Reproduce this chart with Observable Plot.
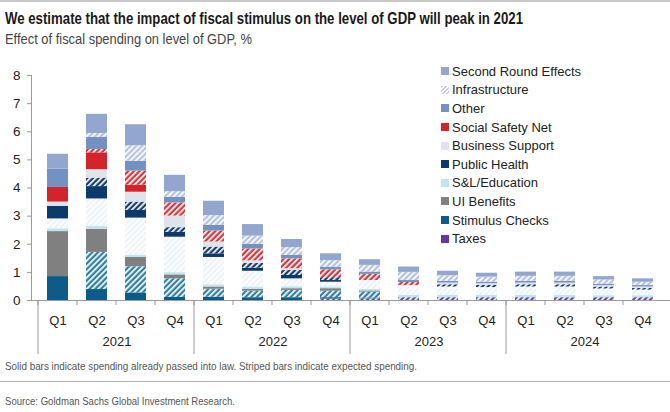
<!DOCTYPE html>
<html><head><meta charset="utf-8">
<script src="https://cdn.jsdelivr.net/npm/d3@7"></script>
<script src="https://cdn.jsdelivr.net/npm/@observablehq/plot@0.6"></script>
<style>
body{margin:0;background:#fff;}
#wrap{position:relative;width:670px;height:412px;overflow:hidden;background:#fff;font-family:"Liberation Sans",Arial,sans-serif;border-top:2px solid #c8c8c8;box-sizing:border-box;}
.fit{position:absolute;left:5px;white-space:nowrap;transform-origin:0 50%;}
#title{top:7px;font-family:"Liberation Sans Narrow","Liberation Sans",Arial,sans-serif;font-weight:bold;font-size:16.5px;color:#1a1a1a;line-height:18px;}
#subtitle{top:29px;font-family:"Liberation Sans Narrow","Liberation Sans",Arial,sans-serif;font-size:14px;color:#444;line-height:17px;}
#plot{position:absolute;top:50px;left:0;}
#note{top:357px;font-family:"Liberation Sans Narrow","Liberation Sans",Arial,sans-serif;font-size:11.5px;color:#555;line-height:14px;}
#line{position:absolute;top:379px;left:0;width:670px;height:1px;background:#b0b0b0;}
#source{top:392px;font-family:"Liberation Sans Narrow","Liberation Sans",Arial,sans-serif;font-size:11.5px;color:#555;line-height:14px;}
#legend{position:absolute;left:441px;top:60px;font-size:13px;color:#222;}
.li{height:18.6px;display:flex;align-items:center;}
.sw{width:8px;height:8px;margin-right:3px;flex:none;}
</style></head>
<body>
<div id="wrap">
  <div id="title" class="fit">We estimate that the impact of fiscal stimulus on the level of GDP will peak in 2021</div>
  <div id="subtitle" class="fit">Effect of fiscal spending on level of GDP, %</div>
  <div id="plot"></div>
  <div id="legend"></div>
  <div id="note" class="fit">Solid bars indicate spending already passed into law. Striped bars indicate expected spending.</div>
  <div id="line"></div>
  <div id="source" class="fit">Source: Goldman Sachs Global Investment Research.</div>
</div>
<script>
// ---- data ----
const quarters = ["Q1","Q2","Q3","Q4"];
const years = ["2021","2022","2023","2024"];
const periods = years.flatMap(y => quarters.map(q => y + " " + q));
const yTicks = [0,1,2,3,4,5,6,7,8];

const categories = ["Taxes","Stimulus Checks","UI Benefits","S&L/Education","Public Health","Business Support","Social Safety Net","Other","Infrastructure","Second Round Effects"];
const legendOrder = ["Second Round Effects","Infrastructure","Other","Social Safety Net","Business Support","Public Health","S&L/Education","UI Benefits","Stimulus Checks","Taxes"];

const taxesStriped    = [0,0,0,0,0,0,0,0.05,0.06,0.1,0.1,0.1,0.1,0.1,0.1,0.1];
const stimulusSolid   = [0.85,0.39,0.27,0.11,0.12,0.1,0.1,0.05,0.03,0,0,0,0,0,0,0];
const stimulusStriped = [0,1.32,0.93,0.66,0.28,0.23,0.26,0.23,0.21,0,0,0,0,0,0,0];
const uiSolid         = [1.6,0.82,0.33,0.14,0.08,0.07,0.06,0.09,0.04,0,0,0,0,0,0,0];
const slSolid         = [0.1,0.1,0.08,0.08,0.08,0.08,0.07,0.07,0.06,0.08,0.08,0.08,0.08,0.08,0.07,0.07];
const slStriped       = [0.35,0.98,1.32,1.26,0.97,0.56,0.28,0.16,0.31,0.33,0.3,0.28,0.3,0.3,0.24,0.2];
const healthSolid     = [0.45,0.44,0.27,0.17,0.13,0.11,0.12,0.06,0,0,0,0,0,0,0,0];
const healthStriped   = [0,0.3,0.3,0.17,0.24,0.17,0.18,0.1,0,0,0.08,0.08,0.08,0.08,0.07,0.06];
const businessSolid   = [0.15,0.3,0.35,0.41,0.18,0.09,0.06,0,0,0.02,0.06,0.06,0.06,0.06,0.05,0.05];
const safetySolid     = [0.52,0.6,0.25,0,0,0,0,0,0,0,0,0,0,0,0,0];
const safetyStriped   = [0,0.12,0.5,0.47,0.39,0.42,0.35,0.28,0.22,0.11,0,0,0,0,0,0];
const otherSolid      = [0.65,0.43,0.35,0.2,0.2,0.17,0.12,0.09,0.08,0.07,0.06,0.05,0.06,0.06,0.05,0.05];
const infraStriped    = [0,0.14,0.55,0.2,0.35,0.29,0.28,0.24,0.24,0.29,0.2,0.18,0.18,0.18,0.15,0.12];
const secondSolid     = [0.53,0.68,0.75,0.58,0.51,0.41,0.29,0.24,0.2,0.19,0.16,0.14,0.15,0.15,0.12,0.12];

// ---- styles ----
const solidColor = {
  "Taxes":"#6b34a3","Stimulus Checks":"#0d5b88","UI Benefits":"#808080","S&L/Education":"#bfe4f4",
  "Public Health":"#0c3a6b","Business Support":"#dfe3eb","Social Safety Net":"#d3232b","Other":"#7391c3",
  "Infrastructure":"#b3c1de","Second Round Effects":"#92a6d0"
};
const stripeBase = {
  "Taxes":"#5d4a9e","Stimulus Checks":"#2f7fa8","S&L/Education":"#edf3f8","Public Health":"#153f6f",
  "Social Safety Net":"#d8363c","Infrastructure":"#b4c3e0"
};

// stack order bottom -> top
const series = [
  {cat:"Taxes", type:"striped", values:taxesStriped},
  {cat:"Stimulus Checks", type:"solid", values:stimulusSolid},
  {cat:"Stimulus Checks", type:"striped", values:stimulusStriped},
  {cat:"UI Benefits", type:"solid", values:uiSolid},
  {cat:"S&L/Education", type:"solid", values:slSolid},
  {cat:"S&L/Education", type:"striped", values:slStriped},
  {cat:"Public Health", type:"solid", values:healthSolid},
  {cat:"Public Health", type:"striped", values:healthStriped},
  {cat:"Business Support", type:"solid", values:businessSolid},
  {cat:"Social Safety Net", type:"solid", values:safetySolid},
  {cat:"Social Safety Net", type:"striped", values:safetyStriped},
  {cat:"Other", type:"solid", values:otherSolid},
  {cat:"Infrastructure", type:"striped", values:infraStriped},
  {cat:"Second Round Effects", type:"solid", values:secondSolid}
];

const patId = cat => "pat-" + categories.indexOf(cat);
const keys = series.map(s => s.cat + "|" + s.type);
const fills = series.map(s => s.type === "solid" ? solidColor[s.cat] : `url(#${patId(s.cat)})`);
const rows = periods.flatMap((p, i) => series.map(s => ({period: p, key: s.cat + "|" + s.type, value: s.values[i]})));

const q1 = periods.filter(p => p.endsWith("Q1"));
const q2 = periods.filter(p => p.endsWith("Q2"));

const chart = Plot.plot({
  width: 670, height: 305,
  marginTop: 23, marginBottom: 57, marginLeft: 31, marginRight: 0,
  style: {fontFamily: "'Liberation Sans', Arial, sans-serif", fontSize: "13px", color: "#222", background: "white", overflow: "visible"},
  x: {type: "band", domain: periods, paddingInner: 0.45, paddingOuter: 0.225, axis: null, label: null},
  y: {domain: [0, 8], axis: null, label: null},
  color: {type: "ordinal", domain: keys, range: fills},
  marks: [
    Plot.barY(rows, {x: "period", y: "value", fill: "key"}),
    Plot.frame({anchor: "left", stroke: "#9a9a9a"}),
    Plot.ruleY([0], {stroke: "#9a9a9a"}),
    Plot.axisY({ticks: yTicks, tickSize: 4, tickPadding: 7, stroke: "#9a9a9a", label: null, fontSize: 13.5}),
    Plot.axisX({ticks: periods, tickSize: 0, tickPadding: 15, tickFormat: d => d.split(" ")[1], label: null, fontSize: 13}),
    Plot.axisX({ticks: periods, tickSize: 5, dx: -20, tickFormat: () => "", label: null, stroke: "#9a9a9a"}),
    Plot.axisX({ticks: q1, tickSize: 54, dx: -20, tickFormat: () => "", label: null, stroke: "#9a9a9a"}),
    Plot.axisX({ticks: q2, tickSize: 0, tickPadding: 36, dx: 20, tickFormat: d => d.split(" ")[0], label: null, fontSize: 13})
  ]
});

// stripe patterns
const defs = d3.select(chart).insert("defs", ":first-child");
Object.entries(stripeBase).forEach(([cat, base]) => {
  const p = defs.append("pattern").attr("id", patId(cat)).attr("patternUnits", "userSpaceOnUse")
    .attr("width", 4).attr("height", 4).attr("patternTransform", "rotate(45)");
  p.append("rect").attr("width", 4).attr("height", 4).attr("fill", base);
  p.append("rect").attr("width", 1.7).attr("height", 4).attr("fill", "#ffffff");
});
document.getElementById("plot").appendChild(chart);

// legend
const leg = d3.select("#legend");
legendOrder.forEach(cat => {
  const row = leg.append("div").attr("class", "li");
  const sw = row.append("div").attr("class", "sw");
  if (cat === "Infrastructure") {
    sw.style("background", "repeating-linear-gradient(135deg, #c3cee6 0 1.5px, #ffffff 1.5px 3px)");
  } else {
    sw.style("background", solidColor[cat]);
  }
  row.append("span").text(cat);
});

// fit text widths to reference
function fit(id, w) {
  const el = document.getElementById(id);
  const r = el.getBoundingClientRect().width;
  el.style.transform = `scaleX(${w / r})`;
}
fit("title", 518);
fit("subtitle", 247);
fit("note", 412);
fit("source", 230);
</script>
</body></html>
